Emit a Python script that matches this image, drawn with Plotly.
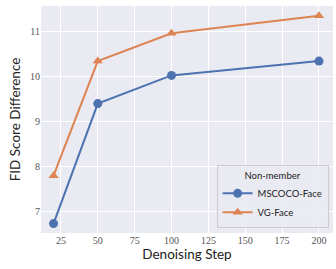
import plotly.graph_objects as go

steps = [20, 50, 100, 200]
mscoco_face = [6.72, 9.40, 10.03, 10.35]
vg_face = [7.79, 10.35, 10.97, 11.36]
x_ticks = [25, 50, 75, 100, 125, 150, 175, 200]
y_ticks = [7, 8, 9, 10, 11]

fig = go.Figure()
fig.add_trace(go.Scatter(x=steps, y=mscoco_face, name="MSCOCO-Face", mode="lines+markers",
                         line=dict(color="#4C72B0", width=2),
                         marker=dict(symbol="circle", size=9, color="#4C72B0")))
fig.add_trace(go.Scatter(x=steps, y=vg_face, name="VG-Face", mode="lines+markers",
                         line=dict(color="#DD8452", width=2),
                         marker=dict(symbol="triangle-up", size=9, color="#DD8452")))

tickfont = dict(family="Liberation Serif", size=10, color="#555555")
titlefont = dict(family="Lato", size=13.5, color="#222222")
fig.update_layout(
    width=336, height=269,
    margin=dict(l=41, r=3, t=6, b=36),
    paper_bgcolor="white", plot_bgcolor="#EAEAF2",
    font=dict(family="Lato", color="#222222"),
    xaxis=dict(range=[11.5, 209.5], tickvals=x_ticks, tickfont=tickfont,
               gridcolor="white", gridwidth=1, zeroline=False, showline=False, ticks="",
               automargin=False,
               title=dict(text="Denoising Step", font=titlefont, standoff=3)),
    yaxis=dict(range=[6.51, 11.58], tickvals=y_ticks, tickfont=tickfont,
               gridcolor="white", gridwidth=1, zeroline=False, showline=False, ticks="",
               automargin=False,
               title=dict(text="FID Score Difference", font=titlefont, standoff=6)),
    legend=dict(x=0.985, y=0.02, xanchor="right", yanchor="bottom",
                bgcolor="rgba(234,234,242,0.8)", bordercolor="#CCCCCC", borderwidth=1,
                font=dict(family="Lato", size=9.5, color="#222222"),
                title=dict(text="Non-member", side="top center",
                           font=dict(family="Lato", size=9.5, color="#222222")),
                itemwidth=30, tracegroupgap=0),
    showlegend=True,
)
fig.write_html("out.html", config={"displayModeBar": False},
               post_script="document.body.style.margin='0';document.body.style.overflow='hidden';")
